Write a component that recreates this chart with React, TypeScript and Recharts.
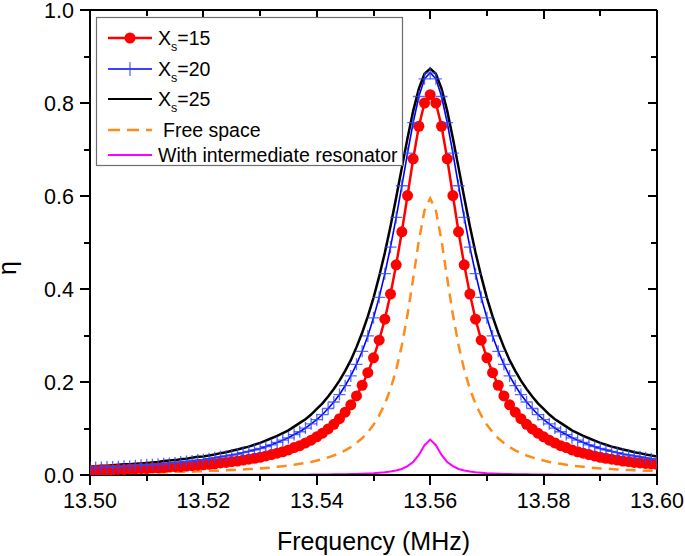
import { LineChart, Line, XAxis, YAxis } from 'recharts';

// frequency grid (MHz)
const FREQ = [
    13.500, 13.501, 13.502, 13.503, 13.504, 13.505, 13.506, 13.507, 13.508, 13.509,
    13.510, 13.511, 13.512, 13.513, 13.514, 13.515, 13.516, 13.517, 13.518, 13.519,
    13.520, 13.521, 13.522, 13.523, 13.524, 13.525, 13.526, 13.527, 13.528, 13.529,
    13.530, 13.531, 13.532, 13.533, 13.534, 13.535, 13.536, 13.537, 13.538, 13.539,
    13.540, 13.541, 13.542, 13.543, 13.544, 13.545, 13.546, 13.547, 13.548, 13.549,
    13.550, 13.551, 13.552, 13.553, 13.554, 13.555, 13.556, 13.557, 13.558, 13.559,
    13.560,
    13.561, 13.562, 13.563, 13.564, 13.565, 13.566, 13.567, 13.568, 13.569, 13.570,
    13.571, 13.572, 13.573, 13.574, 13.575, 13.576, 13.577, 13.578, 13.579, 13.580,
    13.581, 13.582, 13.583, 13.584, 13.585, 13.586, 13.587, 13.588, 13.589, 13.590,
    13.591, 13.592, 13.593, 13.594, 13.595, 13.596, 13.597, 13.598, 13.599, 13.600,
];

const XS15 = [
    0.010, 0.010, 0.011, 0.011, 0.011, 0.012, 0.012, 0.013, 0.013, 0.014,
    0.014, 0.015, 0.015, 0.016, 0.017, 0.018, 0.018, 0.019, 0.020, 0.021,
    0.022, 0.023, 0.024, 0.026, 0.027, 0.029, 0.030, 0.032, 0.034, 0.036,
    0.038, 0.041, 0.044, 0.047, 0.050, 0.054, 0.059, 0.063, 0.069, 0.075,
    0.082, 0.090, 0.099, 0.109, 0.121, 0.135, 0.151, 0.170, 0.193, 0.220,
    0.252, 0.290, 0.335, 0.389, 0.452, 0.523, 0.601, 0.680, 0.750, 0.800,
    0.818,
    0.800, 0.750, 0.680, 0.601, 0.523, 0.452, 0.389, 0.335, 0.290, 0.252,
    0.220, 0.193, 0.170, 0.151, 0.135, 0.121, 0.109, 0.099, 0.090, 0.082,
    0.075, 0.069, 0.063, 0.059, 0.054, 0.050, 0.047, 0.044, 0.041, 0.038,
    0.036, 0.034, 0.032, 0.030, 0.029, 0.027, 0.026, 0.025, 0.024, 0.023,
];

const XS20 = [
    0.015, 0.016, 0.016, 0.017, 0.017, 0.018, 0.019, 0.019, 0.020, 0.021,
    0.022, 0.022, 0.023, 0.024, 0.025, 0.026, 0.028, 0.029, 0.030, 0.032,
    0.033, 0.035, 0.037, 0.039, 0.041, 0.043, 0.045, 0.048, 0.051, 0.054,
    0.057, 0.061, 0.065, 0.070, 0.075, 0.080, 0.087, 0.093, 0.101, 0.110,
    0.119, 0.130, 0.143, 0.157, 0.173, 0.192, 0.213, 0.238, 0.266, 0.299,
    0.338, 0.382, 0.433, 0.490, 0.554, 0.622, 0.692, 0.758, 0.814, 0.852,
    0.865,
    0.852, 0.814, 0.758, 0.692, 0.622, 0.554, 0.490, 0.433, 0.382, 0.338,
    0.299, 0.266, 0.238, 0.213, 0.192, 0.173, 0.157, 0.143, 0.130, 0.119,
    0.110, 0.101, 0.093, 0.087, 0.080, 0.075, 0.070, 0.065, 0.061, 0.057,
    0.054, 0.051, 0.048, 0.045, 0.043, 0.041, 0.039, 0.037, 0.035, 0.033,
];

const XS25 = [
    0.018, 0.019, 0.020, 0.020, 0.021, 0.022, 0.023, 0.023, 0.024, 0.025,
    0.026, 0.027, 0.028, 0.030, 0.031, 0.032, 0.034, 0.035, 0.037, 0.039,
    0.040, 0.042, 0.044, 0.047, 0.049, 0.052, 0.055, 0.058, 0.061, 0.065,
    0.069, 0.074, 0.079, 0.084, 0.090, 0.096, 0.104, 0.112, 0.120, 0.130,
    0.142, 0.154, 0.169, 0.185, 0.203, 0.224, 0.247, 0.275, 0.306, 0.341,
    0.381, 0.427, 0.478, 0.535, 0.597, 0.661, 0.724, 0.783, 0.831, 0.863,
    0.874,
    0.863, 0.831, 0.783, 0.724, 0.661, 0.597, 0.535, 0.478, 0.427, 0.381,
    0.341, 0.306, 0.275, 0.247, 0.224, 0.203, 0.185, 0.169, 0.154, 0.142,
    0.130, 0.120, 0.112, 0.104, 0.096, 0.090, 0.084, 0.079, 0.074, 0.069,
    0.065, 0.061, 0.058, 0.055, 0.052, 0.049, 0.047, 0.044, 0.042, 0.040,
];

const FREE_SPACE = [
    0.005, 0.005, 0.005, 0.005, 0.005, 0.005, 0.005, 0.005, 0.005, 0.006,
    0.006, 0.006, 0.006, 0.006, 0.006, 0.007, 0.007, 0.007, 0.007, 0.008,
    0.008, 0.009, 0.009, 0.009, 0.010, 0.011, 0.011, 0.012, 0.013, 0.013,
    0.014, 0.015, 0.016, 0.018, 0.019, 0.020, 0.022, 0.024, 0.026, 0.028,
    0.031, 0.034, 0.038, 0.042, 0.047, 0.053, 0.060, 0.069, 0.079, 0.092,
    0.108, 0.128, 0.153, 0.185, 0.226, 0.279, 0.345, 0.423, 0.504, 0.569,
    0.595,
    0.569, 0.504, 0.423, 0.345, 0.279, 0.226, 0.185, 0.153, 0.128, 0.108,
    0.092, 0.079, 0.069, 0.060, 0.053, 0.047, 0.042, 0.038, 0.034, 0.031,
    0.028, 0.026, 0.024, 0.022, 0.020, 0.019, 0.018, 0.016, 0.015, 0.014,
    0.013, 0.013, 0.012, 0.011, 0.011, 0.010, 0.009, 0.009, 0.009, 0.008,
];

const INTERMEDIATE = [
    0.0001, 0.0001, 0.0001, 0.0001, 0.0001, 0.0001, 0.0001, 0.0001, 0.0001, 0.0002,
    0.0002, 0.0002, 0.0002, 0.0002, 0.0002, 0.0002, 0.0002, 0.0002, 0.0002, 0.0002,
    0.0003, 0.0003, 0.0003, 0.0003, 0.0003, 0.0003, 0.0003, 0.0004, 0.0004, 0.0004,
    0.0004, 0.0005, 0.0005, 0.0006, 0.0006, 0.0006, 0.0007, 0.0008, 0.0008, 0.0009,
    0.0010, 0.0011, 0.0012, 0.0014, 0.0016, 0.0018, 0.0020, 0.0023, 0.0027, 0.0032,
    0.0038, 0.0047, 0.0058, 0.0074, 0.0098, 0.013, 0.019, 0.028, 0.043, 0.064,
    0.076,
    0.064, 0.043, 0.028, 0.019, 0.013, 0.0098, 0.0074, 0.0058, 0.0047, 0.0038,
    0.0032, 0.0027, 0.0023, 0.0020, 0.0018, 0.0016, 0.0014, 0.0012, 0.0011, 0.0010,
    0.0009, 0.0008, 0.0008, 0.0007, 0.0006, 0.0006, 0.0006, 0.0005, 0.0005, 0.0004,
    0.0004, 0.0004, 0.0004, 0.0003, 0.0003, 0.0003, 0.0003, 0.0003, 0.0003, 0.0003,
];

const X_TICKS = [13.5, 13.51, 13.52, 13.53, 13.54, 13.55, 13.56, 13.57, 13.58, 13.59, 13.6];
const Y_TICKS = [0, 0.1, 0.2, 0.3, 0.4, 0.5, 0.6, 0.7, 0.8, 0.9, 1.0];
const X_DOMAIN = [13.5, 13.6];
const Y_DOMAIN = [0, 1];

const FONT = '"Liberation Sans", Arial, Helvetica, sans-serif';

const W = 685;
const H = 556;
const MARGIN = { top: 9, right: 27, bottom: 0, left: 0 };
const TOP_AXIS_H = 1;
const RIGHT_AXIS_W = 1;
const LEFT_AXIS_W = 90;
const BOTTOM_AXIS_H = 81;
// plot box that recharts lays out from the margins and axis sizes above
const PLOT_LEFT = MARGIN.left + LEFT_AXIS_W;
const PLOT_TOP = MARGIN.top + TOP_AXIS_H;
const PLOT_RIGHT = W - MARGIN.right - RIGHT_AXIS_W;
const PLOT_BOTTOM = H - MARGIN.bottom - BOTTOM_AXIS_H;

const data = FREQ.map((f, i) => ({
    f,
    xs15: XS15[i],
    xs20: XS20[i],
    xs25: XS25[i],
    free: FREE_SPACE[i],
    inter: INTERMEDIATE[i],
}));

const isMajorX = (v: number) => Math.round(v * 100) % 2 === 0;
const isMajorY = (v: number) => Math.round(v * 10) % 2 === 0;

const AXIS_STYLE = { stroke: '#000', strokeWidth: 2 };

// tickSize/tickMargin are 0, so x/y given to these is the axis line itself
function BottomLabel({ x, y, payload }: any) {
    if (!isMajorX(payload.value)) return <g />;
    return (
        <text x={x} y={y + 33} textAnchor="middle" fontSize={21.5} fontFamily={FONT} fill="#000">
            {payload.value.toFixed(2)}
        </text>
    );
}

function LeftLabel({ x, y, payload }: any) {
    if (!isMajorY(payload.value)) return <g />;
    return (
        <text x={x - 16} y={y + 7.5} textAnchor="end" fontSize={21.5} fontFamily={FONT} fill="#000">
            {payload.value.toFixed(1)}
        </text>
    );
}

// tick marks on all four sides of the frame (out on bottom/left, in on top/right), as filled rects
function FrameTicks() {
    const sx = (v: number) => PLOT_LEFT + ((v - X_DOMAIN[0]) / (X_DOMAIN[1] - X_DOMAIN[0])) * (PLOT_RIGHT - PLOT_LEFT);
    const sy = (v: number) => PLOT_BOTTOM - ((v - Y_DOMAIN[0]) / (Y_DOMAIN[1] - Y_DOMAIN[0])) * (PLOT_BOTTOM - PLOT_TOP);
    const marks: JSX.Element[] = [];
    X_TICKS.forEach((v, i) => {
        const x = Math.round(sx(v)) - 1;
        const major = isMajorX(v);
        marks.push(<rect key={`b${i}`} x={x} y={PLOT_BOTTOM} width={2} height={major ? 10 : 6} fill="#000" />);
        marks.push(<rect key={`t${i}`} x={x} y={PLOT_TOP} width={2} height={major ? 9 : 6} fill="#000" />);
    });
    Y_TICKS.forEach((v, i) => {
        const y = Math.round(sy(v)) - 1;
        const major = isMajorY(v);
        const outLen = major ? 10 : 6;
        const inLen = major ? 9 : 6;
        marks.push(<rect key={`l${i}`} x={PLOT_LEFT - outLen} y={y} width={outLen} height={2} fill="#000" />);
        marks.push(<rect key={`r${i}`} x={PLOT_RIGHT - inLen} y={y} width={inLen} height={2} fill="#000" />);
    });
    return <g>{marks}</g>;
}

const plusDot = (p: any) => {
    const { cx, cy, index } = p;
    if (cx == null || cy == null) return <g key={index} />;
    return (
        <path
            key={index}
            d={`M${cx - 6},${cy}H${cx + 6}M${cx},${cy - 6}V${cy + 6}`}
            stroke="#2f45ff"
            strokeWidth={1.3}
            strokeOpacity={0.8}
            fill="none"
        />
    );
};

function XTitle({ viewBox }: any) {
    const { x, y, width } = viewBox;
    return (
        <text x={x + width / 2} y={y + 75} textAnchor="middle" fontSize={25} fontFamily={FONT} fill="#000">
            Frequency (MHz)
        </text>
    );
}

function YTitle() {
    return (
        <text x={16} y={268} textAnchor="middle" fontSize={25} fontFamily={FONT} fill="#000" transform="rotate(-90 16 268)">
            η
        </text>
    );
}

function Overlay() {
    const lx1 = 108;
    const lx2 = 152;
    const tx = 158;
    const fs = 19.5;
    const xsRow = (cy: number, value: string) => (
        <text x={tx} y={cy + 7} fontSize={fs} fontFamily={FONT} fill="#000">
            X
            <tspan fontSize={12.5} dy={6}>s</tspan>
            <tspan fontSize={fs} dy={-6}>={value}</tspan>
        </text>
    );
    return (
        <svg width={W} height={H} style={{ position: 'absolute', left: 0, top: 0, pointerEvents: 'none' }}>
            <FrameTicks />

            <rect x={96.5} y={17.5} width={306} height={148} fill="#fff" stroke="#6e6e6e" strokeWidth={1.2} />

            <line x1={lx1} x2={lx2} y1={38} y2={38} stroke="#ff0000" strokeWidth={2.5} />
            <circle cx={130} cy={38} r={5.5} fill="#ff0000" />
            {xsRow(38, '15')}

            <line x1={lx1} x2={lx2} y1={69} y2={69} stroke="#0000ff" strokeWidth={1.6} />
            <line x1={130} x2={130} y1={62} y2={76} stroke="#2f45ff" strokeWidth={1.3} strokeOpacity={0.8} />
            {xsRow(69, '20')}

            <line x1={lx1} x2={lx2} y1={99} y2={99} stroke="#000" strokeWidth={2} />
            {xsRow(99, '25')}

            <line x1={lx1} x2={lx2} y1={130} y2={130} stroke="#ff8c1a" strokeWidth={2.5} strokeDasharray="12 7" />
            <text x={163} y={137} fontSize={fs} fontFamily={FONT} fill="#000">Free space</text>

            <line x1={lx1} x2={lx2} y1={155} y2={155} stroke="#ff00ff" strokeWidth={2} />
            <text x={tx} y={161.5} fontSize={fs} fontFamily={FONT} fill="#000">With intermediate resonator</text>
        </svg>
    );
}

export default function App() {
    return (
        <div style={{ position: 'absolute', left: 0, top: 0, width: W, height: H, background: '#fff' }}>
            <LineChart width={W} height={H} data={data} margin={MARGIN}>
                <XAxis
                    xAxisId="bottom"
                    dataKey="f"
                    type="number"
                    domain={X_DOMAIN}
                    allowDataOverflow
                    ticks={X_TICKS}
                    interval={0}
                    height={BOTTOM_AXIS_H}
                    tickSize={0}
                    tickMargin={0}
                    tickLine={false}
                    tick={<BottomLabel />}
                    axisLine={AXIS_STYLE}
                    label={<XTitle />}
                />
                <XAxis
                    xAxisId="top"
                    orientation="top"
                    dataKey="f"
                    type="number"
                    domain={X_DOMAIN}
                    allowDataOverflow
                    height={TOP_AXIS_H}
                    tick={false}
                    tickLine={false}
                    axisLine={AXIS_STYLE}
                />
                <YAxis
                    yAxisId="left"
                    type="number"
                    domain={Y_DOMAIN}
                    allowDataOverflow
                    ticks={Y_TICKS}
                    interval={0}
                    width={LEFT_AXIS_W}
                    tickSize={0}
                    tickMargin={0}
                    tickLine={false}
                    tick={<LeftLabel />}
                    axisLine={AXIS_STYLE}
                    label={<YTitle />}
                />
                <YAxis
                    yAxisId="right"
                    orientation="right"
                    type="number"
                    domain={Y_DOMAIN}
                    allowDataOverflow
                    width={RIGHT_AXIS_W}
                    tick={false}
                    tickLine={false}
                    axisLine={AXIS_STYLE}
                />

                <Line
                    xAxisId="bottom"
                    yAxisId="left"
                    type="linear"
                    dataKey="xs15"
                    stroke="#ff0000"
                    strokeWidth={2.5}
                    dot={{ r: 5.5, fill: '#ff0000', stroke: 'none', strokeWidth: 0 }}
                    activeDot={false}
                    isAnimationActive={false}
                />
                <Line
                    xAxisId="bottom"
                    yAxisId="left"
                    type="linear"
                    dataKey="xs20"
                    stroke="#0000ff"
                    strokeWidth={1.6}
                    dot={plusDot}
                    activeDot={false}
                    isAnimationActive={false}
                />
                <Line
                    xAxisId="bottom"
                    yAxisId="left"
                    type="linear"
                    dataKey="xs25"
                    stroke="#000000"
                    strokeWidth={2.5}
                    dot={false}
                    activeDot={false}
                    isAnimationActive={false}
                />
                <Line
                    xAxisId="bottom"
                    yAxisId="left"
                    type="linear"
                    dataKey="free"
                    stroke="#ff8c1a"
                    strokeWidth={2.5}
                    strokeDasharray="10 7"
                    dot={false}
                    activeDot={false}
                    isAnimationActive={false}
                />
                <Line
                    xAxisId="bottom"
                    yAxisId="left"
                    type="linear"
                    dataKey="inter"
                    stroke="#ff00ff"
                    strokeWidth={2}
                    dot={false}
                    activeDot={false}
                    isAnimationActive={false}
                />
            </LineChart>
            <Overlay />
        </div>
    );
}
